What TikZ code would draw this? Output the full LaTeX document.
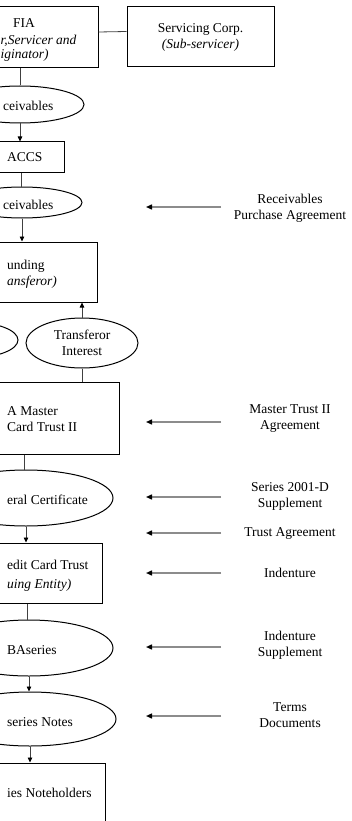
\documentclass[tikz,border=0pt]{standalone}
\usepackage{fontspec}
\setmainfont{Liberation Serif}
\usetikzlibrary{shapes.geometric,arrows.meta}

\tikzset{
  box/.style={draw, line width=1pt, rectangle, inner sep=0pt},
  oval/.style={draw, line width=1pt, ellipse, inner sep=0pt},
  frag/.style={anchor=west, inner sep=0pt, align=left},
  doclabel/.style={align=center, inner sep=0pt},
  link/.style={draw=black!75, line width=0.8pt},
  flow/.style={link, -{Triangle[length=5pt,width=4.5pt,color=black]}},
  docarrow/.style={draw=black!45, line width=1.4pt, -{Triangle[length=6pt,width=5pt,color=black]}},
}

\begin{document}
\begin{tikzpicture}[x=1pt, y=-1pt, font=\fontsize{13.5}{16}\selectfont]
  \useasboundingbox (0,0) rectangle (351,821);
  \clip (0,0) rectangle (351,821);

  % Originator and sub-servicer
  \node[box, minimum width=156pt, minimum height=61pt] (fia) at (20,37.5) {};
  \node[frag] (fia-a) at (13,23) {FIA};
  \node[frag] (fia-b) at (0.5,41) {\textit{r,Servicer and}};
  \node[frag] (fia-c) at (0.5,55) {\textit{iginator)}};
  \node[box, minimum width=147pt, minimum height=60pt, align=center] (serv) at (200.5,37) {Servicing Corp.\\\textit{(Sub-servicer)}};
  \draw[link] ([yshift=5.5pt]fia.east) -- ([yshift=5.5pt]serv.west);

  % Receivables to ACCS
  \node[oval, minimum width=128pt, minimum height=37pt] (rec1) at (20,104.5) {};
  \node[frag] (rec1-t) at (3,106) {ceivables};
  \draw[link] (fia.south) -- (rec1.north);
  \node[box, minimum width=86pt, minimum height=31pt] (accs) at (21,157.5) {};
  \node[frag] (accs-t) at (7,157) {ACCS};
  \draw[flow] (rec1.south) -- (rec1.south |- accs.north);

  % Receivables to funding
  \node[oval, minimum width=120pt, minimum height=31pt] (rec2) at (22,202.5) {};
  \node[frag] (rec2-t) at (3,205) {ceivables};
  \draw[link] (accs.south) -- (accs.south |- rec2.north);
  \node[box, minimum width=150pt, minimum height=60pt] (fund) at (22,272) {};
  \node[frag] (fund-t) at (7,274) {unding\\\textit{ansferor)}};
  \draw[flow] (rec2.south) -- (rec2.south |- fund.north);

  % Transferor interest
  \node[oval, minimum width=96pt, minimum height=36pt] (lefto) at (-30,340) {};
  \node[oval, minimum width=112pt, minimum height=50pt, align=center] (ti) at (82,343) {Transferor\\Interest};
  \draw[flow] (ti.north) -- (ti.north |- fund.south);

  % Master trust
  \node[box, minimum width=190pt, minimum height=72pt] (master) at (24,418) {};
  \node[frag] (master-t) at (7,419) {A Master\\Card Trust II};
  \draw[link] (ti.south) -- (ti.south |- master.north);

  % Collateral certificate
  \node[oval, minimum width=174pt, minimum height=56pt] (coll) at (26,498) {};
  \node[frag] (coll-t) at (7,500) {eral Certificate};
  \draw[link] (master.south) -- (master.south |- coll.north);

  % Issuing entity
  \node[box, minimum width=150pt, minimum height=60pt] (cct) at (27,573) {};
  \node[frag] (cct-a) at (7,565) {edit Card Trust};
  \node[frag] (cct-b) at (7,585) {\textit{uing Entity)}};
  \draw[flow] (coll.south) -- (coll.south |- cct.north);

  % Series and notes
  \node[oval, minimum width=168pt, minimum height=56pt] (baser) at (29,648) {};
  \node[frag] (baser-t) at (7,650) {BAseries};
  \draw[link] (cct.south) -- (cct.south |- baser.north);
  \node[oval, minimum width=172pt, minimum height=54pt] (notes) at (30,719) {};
  \node[frag] (notes-t) at (7,722) {series Notes};
  \draw[flow] (baser.south) -- (baser.south |- notes.north);
  \node[box, minimum width=148pt, minimum height=87pt] (holders) at (31,806.5) {};
  \node[frag] (holders-t) at (7,793) {ies Noteholders};
  \draw[flow] (notes.south) -- (notes.south |- holders.north);

  % Documents
  \foreach \nm/\ya/\yt/\txt in {
    rpa/207/208/{Receivables\\Purchase Agreement},
    mta/422/418.5/{Master Trust II\\Agreement},
    sup/497/496.5/{Series 2001-D\\Supplement},
    tra/533/533/{Trust Agreement},
    ind/573/573/{Indenture},
    isup/647/645.5/{Indenture\\Supplement},
    terms/716/715.5/{Terms\\Documents}}
  {
    \node[doclabel] (\nm) at (290,\yt) {\txt};
    \coordinate (\nm-from) at (221,\ya);
    \coordinate (\nm-to) at (146,\ya);
    \draw[docarrow] (\nm-from) -- (\nm-to);
  }

\end{tikzpicture}
\end{document}
